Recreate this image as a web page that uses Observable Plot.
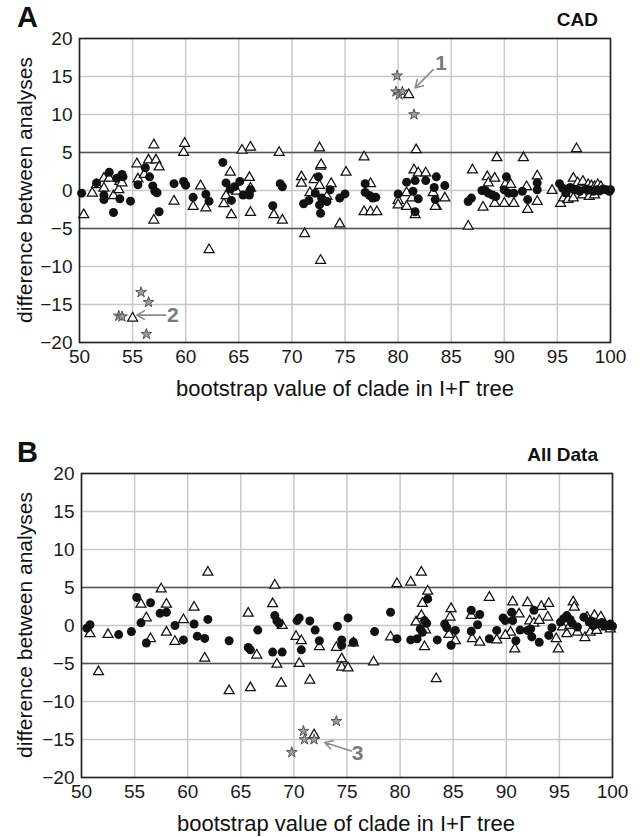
<!DOCTYPE html>
<html><head><meta charset="utf-8">
<script src="https://cdn.jsdelivr.net/npm/d3@7"></script>
<script src="https://cdn.jsdelivr.net/npm/@observablehq/plot@0.6"></script>
<style>
body{margin:0;background:#fff;font-family:"Liberation Sans",Arial,sans-serif;color:#111}
#wrap{position:relative;width:644px;height:837px;overflow:hidden;background:#fff}
.abs{position:absolute;line-height:1;white-space:nowrap}
.letter{font-weight:bold;font-size:29px}
.ptitle{font-weight:bold;font-size:19px}
.ytitle{font-size:21px;transform:translate(-50%,-50%) rotate(-90deg)}
.xtitle{font-size:22px;transform:translateX(-50%)}
</style></head><body><div id="wrap"></div>
<script>
// ---- tick labels ----
const xTicks = [50,55,60,65,70,75,80,85,90,95,100];
const yTicks = [-20,-15,-10,-5,0,5,10,15,20];
const refLines = [5,-5];

// ---- Panel A (CAD) ----
const aCircX = [50.2,51.6,52.3,52.3,52.8,53.2,53.5,53.8,54.0,54.1,54.8,55.5,56.2,56.6,56.9,57.1,57.3,57.5,58.9,59.8,60.0,60.7,61.9,62.2,63.5,63.8,64.2,64.3,64.6,65.1,65.4,66.0,66.1,
68.2,68.9,69.1,71.1,71.6,72.2,72.5,72.6,72.7,72.8,73.3,73.6,74.5,75.0,76.9,76.9,77.3,77.6,77.9,80.0,80.8,81.4,81.6,81.9,81.6,82.6,83.4,83.6,83.5,84.4,
86.6,86.9,87.9,88.2,88.5,88.9,89.2,90.2,90.0,90.4,90.9,91.7,92.2,93.1,93.1,95.2,95.5,95.8,96.2,96.5,96.8,97.1,97.7,98.0,98.4,98.7,99.0,99.3,99.6,99.9,100];
const aCircY = [-0.35,1.0,-0.6,-1.2,2.4,-2.9,1.6,-1.1,2.1,1.8,-1.4,0.75,3.0,1.8,0.6,-0.1,-0.3,-2.8,0.9,1.2,0.7,-0.9,-0.5,-1.4,3.7,1.0,0.2,-1.3,0.5,1.2,-0.6,-0.6,0.1,
-2.0,0.9,0.5,-1.75,-1.3,-0.35,1.8,-1.9,-3.0,-1.0,-1.45,0.1,-1.0,-0.45,0.9,-0.25,-0.65,-1.0,-0.9,-0.45,1.1,-0.1,1.3,-1.1,-2.8,1.3,0.4,1.8,-1.2,0.65,
-1.45,-1.0,0,0,-0.35,-0.6,-0.8,1.8,0.1,-0.35,-0.35,-0.1,-1.2,1.0,0.1,0.9,0.3,-0.35,0.4,0.2,0.1,-0.1,0.2,0.05,-0.1,0.1,-0.05,0.2,0.1,-0.1,0.1];
const aTriX = [50.4,51.2,51.6,52.3,52.3,52.8,53.2,53.7,53.8,54.0,55.4,55.5,56.1,56.5,57.0,57.0,57.2,57.5,58.9,59.9,59.8,60.7,61.4,61.9,62.2,63.6,63.8,64.2,64.3,64.8,65.3,66.0,66.1,66.1,66.1,
68.3,68.8,69.1,70.9,70.9,71.2,71.7,72.1,72.6,72.7,72.75,72.6,73.3,73.7,72.7,74.5,75.1,76.8,76.8,77.4,77.4,78.0,80.0,80.0,80.8,80.8,81.3,81.5,81.6,81.7,81.9,82.6,83.3,83.6,
84.4,83.5,86.6,87.0,88.0,88.4,88.5,89.1,89.1,89.3,90.1,90.6,90.0,90.9,91.8,92.1,92.2,93.1,93.1,94.5,95.3,95.6,96.5,96.9,97.4,97.9,98.2,98.5,98.8,99.1,96.8,96.0,96.5,97.4,98.0,98.5,81.0,55.0];
const aTriY = [-3.2,-0.35,0.75,1.6,0.3,1.6,-0.7,0.1,1.2,1.0,3.5,1.5,2.1,4.0,6.0,-3.9,4.0,3.1,-1.4,6.2,5.0,-2.1,0.6,-2.3,-7.8,-1.75,-0.7,2.4,-3.2,-0.1,5.3,1.7,0.3,5.7,-2.9,
-3.2,5.0,-3.9,1.8,0.96,-5.7,-0.3,1.4,5.6,3.2,3.4,0.65,-0.8,0.9,-9.2,-4.4,2.4,4.4,-2.8,0.9,-2.8,-2.8,-1.3,-1.9,-0.3,-2.1,-1.0,2.7,-3.2,5.35,2.3,2.3,-0.3,-2.1,
-1.0,-2.1,-4.7,2.7,-2.2,1.8,1.0,1.6,-1.7,4.3,0.8,0.8,-1.7,-1.7,4.3,0.5,-2.5,1.9,-1.45,0,-1.7,-1.0,1.6,1.0,1.2,0.75,0.6,0.5,0.75,0.5,5.5,-1.2,-1.0,-0.6,-0.8,-0.6,12.6,-16.8];
const aStarX = [79.9,79.8,80.1,80.4,81.5,53.7,54.0,55.8,56.5,56.3];
const aStarY = [15.1,13.0,12.6,13.0,10.0,-16.5,-16.6,-13.4,-14.7,-18.9];
const aNoteText = ["1","2"];
const aNoteX = [84.05,58.8];
const aNoteY = [16.8,-16.4];
const aArrowX1 = [83.3,58.1], aArrowY1 = [15.9,-16.4];
const aArrowX2 = [81.6,55.4], aArrowY2 = [13.5,-16.4];

// ---- Panel B (All Data) ----
const bCircX = [50.5,50.8,53.5,54.7,55.2,55.6,56.1,56.5,57.4,58.0,58.8,59.6,60.6,60.9,61.6,61.9,63.9,65.7,65.9,66.6,
68.0,68.9,68.2,68.4,68.6,70.3,70.5,70.7,71.5,72.0,72.4,74.1,74.5,74.5,75.1,75.6,77.6,79.1,79.7,81.0,81.6,81.9,82.1,82.3,82.5,82.6,83.5,
84.2,84.4,84.8,85.2,86.7,87.5,87.3,86.7,88.4,89.1,89.7,90.5,90.6,89.9,90.9,91.3,92.0,92.3,92.6,92.4,93.1,94.0,94.3,95.1,95.7,96.2,96.7,97.3,97.8,98.2,98.7,99.2,99.6,100,95.4,96.0,98.0,99.0,99.8];
const bCircY = [-0.35,0.1,-1.2,-0.8,3.7,0.35,-2.3,3.0,1.6,1.75,0,-1.9,0.2,-1.4,-1.7,0.8,-2.0,-2.9,-3.2,-0.6,
-3.5,-3.5,1.3,0.6,0.3,0.65,1.0,-3.2,0.6,-0.6,-2.0,-0.1,-1.9,-2.6,1.0,-2.2,-0.8,1.75,-1.75,-1.9,-1.75,-0.45,-0.9,0.65,0.3,3.5,-1.9,
0.2,-0.3,-2.6,-0.65,2.0,1.45,0.1,-0.75,-1.75,-0.65,1.0,1.75,0.65,0.65,-2.0,-0.6,-0.65,-0.45,2.0,-1.5,-2.2,-1.3,-0.3,0.45,1.3,0.3,-0.2,1.1,0.45,0,0.2,0,0,-0.1,0.9,0.8,0.6,0.4,0.2];
const bTriX = [50.8,51.6,52.5,55.6,56.1,56.5,57.5,58.0,58.0,58.8,59.6,60.6,61.6,61.9,63.9,65.7,65.9,66.5,
68.0,68.2,68.4,68.8,68.9,70.2,70.5,70.7,71.5,72.4,74.0,74.5,74.5,75.1,75.6,77.5,79.1,79.7,81.0,81.5,82.0,82.1,82.6,82.0,82.4,82.3,83.4,
84.8,84.7,84.6,85.2,86.7,86.8,87.5,88.4,89.1,90.6,90.4,89.9,91.2,90.8,92.0,92.2,92.6,93.1,93.3,94.0,93.9,94.7,94.9,96.3,96.4,95.7,96.7,97.4,97.9,98.5,97.6,98.3,98.9,99.4,99.8,95.3,96.0,71.9];
const bTriY = [-1.1,-6.1,-1.2,2.8,1.0,-1.75,4.8,2.8,-0.9,-2.1,0.75,2.4,-4.3,7.0,-8.6,1.6,-8.2,-3.9,
2.85,5.3,-5.1,-7.6,0,-1.45,-5.0,-2.0,-7.2,-2.8,-2.9,-4.4,-5.5,-5.6,-2.3,-4.8,-1.5,5.5,5.7,0.45,7.0,2.9,4.5,1.3,-0.6,-2.8,-7.0,
2.2,1.1,-1.2,-2.0,1.3,-1.75,-2.2,3.7,-1.9,3.1,-0.9,-1.3,1.5,-3.1,3.0,0.6,0.3,0.65,2.5,2.9,1.1,-1.75,-3.1,3.1,2.4,-1.1,-0.9,-1.6,-0.9,-0.65,1.1,1.3,1.1,-0.2,-0.45,-0.2,0,-14.4];
const bStarX = [74.0,70.9,71.0,71.9,69.8];
const bStarY = [-12.6,-13.9,-15.0,-15.0,-16.7];
const bNoteText = ["3"];
const bNoteX = [76.0];
const bNoteY = [-16.8];
const bArrowX1 = [75.4], bArrowY1 = [-16.5];
const bArrowX2 = [72.9], bArrowY2 = [-15.4];

const FONT = '"Liberation Sans", Arial, sans-serif';

function pts(xs, ys) { return xs.map((x, i) => ({x, y: ys[i]})); }

function panel(o) {
  const notes = o.noteText.map((t, i) => ({t, x: o.noteX[i], y: o.noteY[i]}));
  const arrows = o.ax1.map((x1, i) => ({x1, y1: o.ay1[i], x2: o.ax2[i], y2: o.ay2[i]}));
  return Plot.plot({
    width: 644, height: 376,
    marginLeft: o.ml, marginRight: o.mr, marginTop: 38, marginBottom: 34,
    style: {fontFamily: FONT, fontSize: "19px", color: "#1a1a1a", background: "transparent", overflow: "visible"},
    x: {domain: [50, 100], ticks: xTicks, tickSize: 0, tickPadding: 7, label: null},
    y: {domain: [-20, 20], ticks: yTicks, tickSize: 0, tickPadding: 7, label: null},
    marks: [
      Plot.gridX(xTicks, {stroke: "#c8c8c8", strokeOpacity: 1, strokeWidth: 1.5}),
      Plot.gridY(yTicks, {stroke: "#c8c8c8", strokeOpacity: 1, strokeWidth: 1.5}),
      Plot.ruleY(refLines, {stroke: "#555", strokeWidth: 1.6}),
      Plot.frame({stroke: "#222", strokeWidth: 1.6}),
      Plot.dot(pts(o.triX, o.triY), {x: "x", y: "y", symbol: "triangle", r: 3.7, fill: "white", stroke: "#111", strokeWidth: 1.25}),
      Plot.dot(pts(o.circX, o.circY), {x: "x", y: "y", symbol: "circle", r: 4.5, fill: "#111", stroke: "none"}),
      Plot.dot(pts(o.starX, o.starY), {x: "x", y: "y", symbol: "star", r: 3.4, fill: "#9c9c9c", stroke: "#3a3a3a", strokeWidth: 0.8}),
      Plot.arrow(arrows, {x1: "x1", y1: "y1", x2: "x2", y2: "y2", stroke: "#8a8a8a", strokeWidth: 1.6, headLength: 8, bend: 0}),
      Plot.text(notes, {x: "x", y: "y", text: "t", fill: "#7a7a7a", fontWeight: "bold", fontSize: 21})
    ]
  });
}

const wrap = document.getElementById("wrap");
function place(el, left, top) {
  const d = document.createElement("div");
  d.style.position = "absolute"; d.style.left = left + "px"; d.style.top = top + "px";
  d.appendChild(el); wrap.appendChild(d);
}
function label(text, cls, css) {
  const d = document.createElement("div");
  d.className = "abs " + cls; d.textContent = text;
  Object.assign(d.style, css); wrap.appendChild(d);
}

const svgA = panel({ml: 79, mr: 34, circX: aCircX, circY: aCircY, triX: aTriX, triY: aTriY, starX: aStarX, starY: aStarY,
  noteText: aNoteText, noteX: aNoteX, noteY: aNoteY, ax1: aArrowX1, ay1: aArrowY1, ax2: aArrowX2, ay2: aArrowY2});
const svgB = panel({ml: 81, mr: 32, circX: bCircX, circY: bCircY, triX: bTriX, triY: bTriY, starX: bStarX, starY: bStarY,
  noteText: bNoteText, noteX: bNoteX, noteY: bNoteY, ax1: bArrowX1, ay1: bArrowY1, ax2: bArrowX2, ay2: bArrowY2});
place(svgA, 0, 0);
place(svgB, 0, 435);

label("A", "letter", {left: "17px", top: "3px"});
label("CAD", "ptitle", {right: "46px", top: "10px"});
label("difference between analyses", "ytitle", {left: "24px", top: "190px"});
label("bootstrap value of clade in I+\u0393 tree", "xtitle", {left: "345px", top: "378px"});

label("B", "letter", {left: "17px", top: "438px"});
label("All Data", "ptitle", {right: "46px", top: "445px"});
label("difference between analyses", "ytitle", {left: "24px", top: "625px"});
label("bootstrap value of clade in I+\u0393 tree", "xtitle", {left: "346px", top: "813px"});
</script></body></html>
